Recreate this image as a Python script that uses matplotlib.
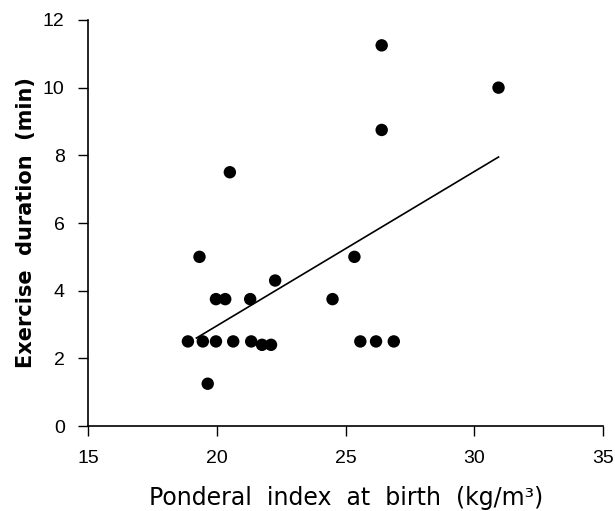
import matplotlib

matplotlib.use("Agg")

import matplotlib.pyplot as plt

ponderal_index = [
    18.87, 19.32, 19.45, 19.64, 19.96, 19.96, 20.32, 20.5, 20.63,
    21.29, 21.33, 21.75, 22.1, 22.26, 24.49, 25.34, 25.57, 26.18,
    26.4, 26.4, 26.87, 30.94,
]
exercise_duration = [
    2.5, 5.0, 2.5, 1.25, 3.75, 2.5, 3.75, 7.5, 2.5,
    3.75, 2.5, 2.4, 2.4, 4.3, 3.75, 5.0, 2.5, 2.5,
    11.25, 8.75, 2.5, 10.0,
]

# regression line end points
fit_x = [19.2, 30.94]
fit_y = [2.6, 7.95]

x_ticks = [15, 20, 25, 30, 35]
y_ticks = [0, 2, 4, 6, 8, 10, 12]


def main():
    fig = plt.figure(figsize=(6.15, 5.11), dpi=100)
    ax = fig.add_axes([0.1436, 0.1663, 0.8369, 0.7946])

    ax.scatter(
        ponderal_index,
        exercise_duration,
        s=80,
        color="black",
        edgecolors="none",
        zorder=3,
    )
    ax.plot(fit_x, fit_y, color="black", linewidth=1.2)

    ax.set_xlim(15, 35)
    ax.set_ylim(0, 12)
    ax.set_xticks(x_ticks)
    ax.set_yticks(y_ticks)

    for side in ["top", "right"]:
        ax.spines[side].set_visible(False)
    for side in ["left", "bottom"]:
        ax.spines[side].set_linewidth(1.2)

    ax.tick_params(
        direction="out",
        length=7,
        width=1.0,
        pad=10,
        labelsize=14,
    )
    for label in ax.get_xticklabels() + ax.get_yticklabels():
        label.set_family("Liberation Sans")

    ax.set_ylabel(
        "Exercise  duration  (min)",
        fontsize=15,
        fontweight="bold",
        family="DejaVu Sans",
        labelpad=5,
    )
    ax.set_xlabel(
        "Ponderal  index  at  birth  (kg/m³)",
        fontsize=17,
        family="DejaVu Sans",
        labelpad=14,
    )

    fig.savefig("out.png", dpi=100)


if __name__ == "__main__":
    main()
